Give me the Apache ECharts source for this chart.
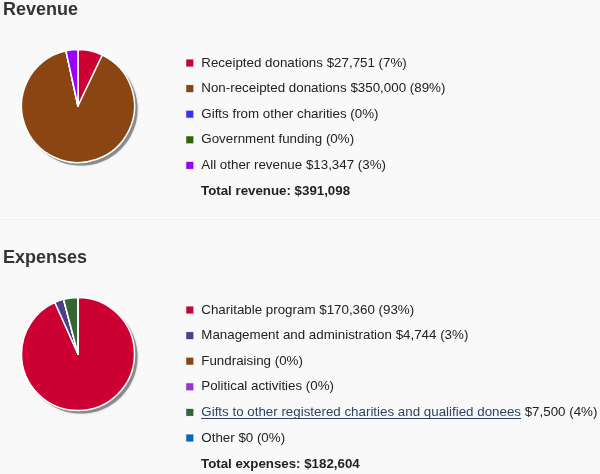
<!DOCTYPE html>
<html>
<head>
<meta charset="utf-8">
<script src="https://cdn.jsdelivr.net/npm/echarts@6/dist/echarts.min.js"></script>
<style>
html,body{margin:0;padding:0;background:#f9f9f9;}
#c{width:600px;height:474px;}
</style>
</head>
<body>
<div id="c"></div>
<script>
// Revenue data
const revenueCategories = ['Receipted donations', 'Non-receipted donations', 'Gifts from other charities', 'Government funding', 'All other revenue'];
const revenueValues = [27751, 350000, 0, 0, 13347];
const revenueShowAmount = [true, true, false, false, true];
const revenueColors = ['#cc0033', '#8b4513', '#3333ff', '#336600', '#9900ff'];
const revenueTotalLabel = 'Total revenue: $391,098';

// Expense data
const expenseCategories = ['Charitable program', 'Management and administration', 'Fundraising', 'Political activities', 'Gifts to other registered charities and qualified donees', 'Other'];
const expenseValues = [170360, 4744, 0, 0, 7500, 0];
const expenseShowAmount = [true, true, false, false, true, true];
const expenseColors = ['#cc0033', '#4b3f8c', '#8b4513', '#9933cc', '#336633', '#0066cc'];
const expenseTotalLabel = 'Total expenses: $182,604';
const expenseLinkItem = 'Gifts to other registered charities and qualified donees';

const FONT = '"Liberation Sans", Arial, sans-serif';
const FS = 13.35;

function fmtMoney(v){ return '$' + v.toLocaleString('en-US'); }
function makeFormatter(cats, vals, show, link){
  const total = vals.reduce((a,b)=>a+b,0);
  return function(name){
    const i = cats.indexOf(name);
    const pct = Math.round(vals[i] / total * 100);
    const tail = (show[i] ? ' ' + fmtMoney(vals[i]) : '') + ' (' + pct + '%)';
    if (name === link) return '{lnk|' + name + '}{t2|' + tail + '}';
    return '{t|' + name + tail + '}';
  };
}

function pieData(cats, vals, colors){
  return cats.map((c,i)=>({name:c, value:vals[i], itemStyle:{color:colors[i]}}));
}

const chart = echarts.init(document.getElementById('c'), null, {renderer:'canvas'});
const rich = {
  t:{fontFamily:FONT, fontSize:FS, color:'#222', padding:[0,0,0,3]},
  t2:{fontFamily:FONT, fontSize:FS, color:'#222'},
  lnk:{fontFamily:FONT, fontSize:FS, color:'#2b4466', padding:[0,0,0,3]}
};
const legendBase = {
  orient:'vertical', icon:'rect', itemWidth:7, itemHeight:7, itemGap:9.6, padding:0,
  selectedMode:false, inactiveColor:'#ccc',
  itemStyle:{borderWidth:0.6, borderColor:'rgba(0,0,0,0.15)'},
  textStyle:{fontFamily:FONT, fontSize:FS, color:'#222', lineHeight:16, rich:rich}
};
const titleStyle = {fontFamily:FONT, fontSize:18, fontWeight:'bold', color:'#333'};
const totalStyle = {fontFamily:FONT, fontSize:13.3, fontWeight:'bold', color:'#222'};

chart.setOption({
  backgroundColor:'#f9f9f9',
  animation:false,
  title:[
    {text:'Revenue', left:3, top:1.5, padding:0, textStyle:titleStyle},
    {text:'Expenses', left:3, top:249, padding:0, textStyle:titleStyle},
    {text:revenueTotalLabel, left:201, top:185, padding:0, textStyle:totalStyle},
    {text:expenseTotalLabel, left:201, top:458, padding:0, textStyle:totalStyle}
  ],
  legend:[
    Object.assign({}, legendBase, {left:186, top:55, data:revenueCategories,
      formatter:makeFormatter(revenueCategories, revenueValues, revenueShowAmount, null)}),
    Object.assign({}, legendBase, {left:186, top:302, data:expenseCategories,
      formatter:makeFormatter(expenseCategories, expenseValues, expenseShowAmount, expenseLinkItem)})
  ],
  series:[
    {type:'pie', silent:true, center:[81,109], radius:[0,56.5], startAngle:90, label:{show:false}, labelLine:{show:false},
      legendHoverLink:false, data:[{name:'__shadow_r', value:1, itemStyle:{color:'#8a8a8a', shadowBlur:2, shadowColor:'rgba(0,0,0,0.3)'}}]},
    {type:'pie', center:[78,106], radius:[0,56.5], startAngle:90, clockwise:true, label:{show:false}, labelLine:{show:false},
      itemStyle:{borderColor:'#ffffff', borderWidth:1.5}, data:pieData(revenueCategories, revenueValues, revenueColors)},
    {type:'pie', silent:true, center:[81,357], radius:[0,56.5], startAngle:90, label:{show:false}, labelLine:{show:false},
      legendHoverLink:false, data:[{name:'__shadow_e', value:1, itemStyle:{color:'#8a8a8a', shadowBlur:2, shadowColor:'rgba(0,0,0,0.3)'}}]},
    {type:'pie', center:[78,354], radius:[0,56.5], startAngle:90, clockwise:true, label:{show:false}, labelLine:{show:false},
      itemStyle:{borderColor:'#ffffff', borderWidth:1.5}, data:pieData(expenseCategories, expenseValues, expenseColors)}
  ],
  graphic:[
    {type:'line', shape:{x1:0, y1:218.5, x2:600, y2:218.5}, style:{stroke:'#ffffff', lineWidth:1}},
    {type:'line', shape:{x1:0, y1:219.5, x2:600, y2:219.5}, style:{stroke:'#ececec', lineWidth:1}},
    {type:'line', id:'underline', shape:{x1:201, y1:418.5, x2:521, y2:418.5}, style:{stroke:'#2b4466', lineWidth:1}}
  ]
});
</script>
</body>
</html>
